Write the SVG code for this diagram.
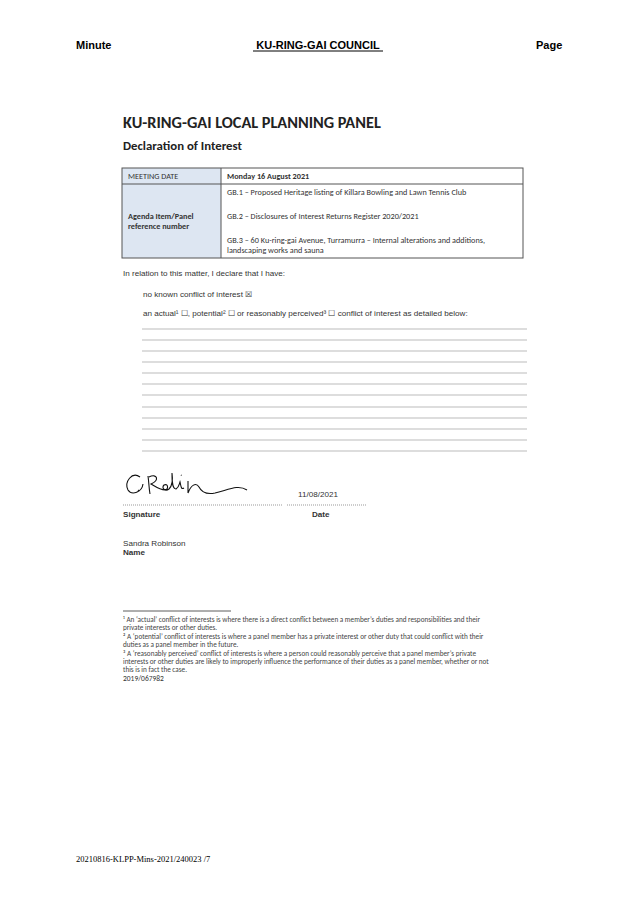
<svg xmlns="http://www.w3.org/2000/svg" width="638" height="900" viewBox="0 0 638 900">
<style>
.h{font-family:"Liberation Sans",Arial,sans-serif;font-weight:bold;font-size:11px;fill:#000}
.c{font-family:Carlito,"Open Sans","Liberation Sans",sans-serif;font-size:8.2px;fill:#333}
.a{font-family:"Liberation Sans",Arial,sans-serif;font-size:8.1px;fill:#333}
.ln{stroke:#bbb;stroke-width:1}
.f{font-family:Carlito,"Open Sans","Liberation Sans",sans-serif;font-size:7.2px;fill:#444}
</style>
<rect width="638" height="900" fill="#fff"/>
<g id="header">
<text class="h" x="76" y="49">Minute</text>
<text class="h" x="318" y="49" text-anchor="middle">KU-RING-GAI COUNCIL</text>
<line x1="253" y1="51" x2="383" y2="51" stroke="#000" stroke-width="1"/>
<text class="h" x="536" y="49">Page</text>
</g>
<g id="title">
<text x="123" y="128" font-family="Carlito,'Open Sans','Liberation Sans',sans-serif" font-weight="bold" font-size="16.3" fill="#222">KU-RING-GAI LOCAL PLANNING PANEL</text>
<text x="123" y="150" font-family="Carlito,'Open Sans','Liberation Sans',sans-serif" font-weight="bold" font-size="12.8" fill="#222">Declaration of Interest</text>
</g>
<g id="table">
<rect x="122" y="168" width="99" height="90" fill="#dde6f2"/>
<rect x="122" y="168" width="401" height="90" fill="none" stroke="#555" stroke-width="1"/>
<line x1="221" y1="168" x2="221" y2="258" stroke="#555"/>
<line x1="122" y1="184" x2="523" y2="184" stroke="#555"/>
<text class="c" x="128" y="179">MEETING DATE</text>
<text class="c" x="227" y="179" font-weight="bold" fill="#111">Monday 16 August 2021</text>
<text class="c" x="128" y="219" font-weight="bold">Agenda Item/Panel</text>
<text class="c" x="128" y="229" font-weight="bold">reference number</text>
<text class="c" x="227" y="195">GB.1 – Proposed Heritage listing of Killara Bowling and Lawn Tennis Club</text>
<text class="c" x="227" y="219">GB.2 – Disclosures of Interest Returns Register 2020/2021</text>
<text class="c" x="227" y="243">GB.3 – 60 Ku-ring-gai Avenue, Turramurra – Internal alterations and additions,</text>
<text class="c" x="227" y="253">landscaping works and sauna</text>
</g>
<g id="declaration">
<text class="a" x="123" y="276">In relation to this matter, I declare that I have:</text>
<text class="a" x="143" y="297">no known conflict of interest ☒</text>
<text class="a" x="143" y="316">an actual¹ ☐, potential² ☐ or reasonably perceived³ ☐ conflict of interest as detailed below:</text>
<g class="ln">
<line x1="142" y1="329" x2="527" y2="329"/><line x1="142" y1="340" x2="527" y2="340"/>
<line x1="142" y1="351" x2="527" y2="351"/><line x1="142" y1="362" x2="527" y2="362"/>
<line x1="142" y1="373" x2="527" y2="373"/><line x1="142" y1="384" x2="527" y2="384"/>
<line x1="142" y1="395" x2="527" y2="395"/><line x1="142" y1="407" x2="527" y2="407"/>
<line x1="142" y1="418" x2="527" y2="418"/><line x1="142" y1="429" x2="527" y2="429"/>
<line x1="142" y1="440" x2="527" y2="440"/><line x1="142" y1="451" x2="527" y2="451"/>
</g>
</g>
<g id="signature">
<path d="M140 477 C132 471 124 482 128 490 C132 496 142 492 143 484 M138 490 l0.6 0.6 M148 476 C149 483 149 489 150 494 M149 477 C157 473 160 480 151 484 C156 487 160 490 165 490 C169 489 168 483 164 485 C161 488 165 492 169 489 C172 486 173 480 172 473 C172 481 172 489 176 489 C179 487 179 485 180 482 C181 486 181 490 184 488 M181 475 l0.5 0.5 M188 481 C188 486 188 489 188 493 C191 485 196 482 199 487 C201 491 205 495 215 493 C228 490 238 484 247 490" fill="none" stroke="#111" stroke-width="1.1"/>
<line x1="123" y1="505" x2="283" y2="505" stroke="#999" stroke-dasharray="1 1"/>
<line x1="287" y1="505" x2="366" y2="505" stroke="#999" stroke-dasharray="1 1"/>
<text class="a" x="298" y="497">11/08/2021</text>
<text class="a" x="123" y="517" font-weight="bold" fill="#222">Signature</text>
<text class="a" x="312" y="517" font-weight="bold" fill="#222">Date</text>
<text class="a" x="123" y="546">Sandra Robinson</text>
<text class="a" x="123" y="555" font-weight="bold" fill="#222">Name</text>
</g>
<g id="footnotes">
<line x1="123" y1="611" x2="231" y2="611" stroke="#333" stroke-width="0.8"/>
<text class="f" x="123" y="622">¹ An ‘actual’ conflict of interests is where there is a direct conflict between a member’s duties and responsibilities and their</text>
<text class="f" x="123" y="630">private interests or other duties.</text>
<text class="f" x="123" y="639">² A ‘potential’ conflict of interests is where a panel member has a private interest or other duty that could conflict with their</text>
<text class="f" x="123" y="647">duties as a panel member in the future.</text>
<text class="f" x="123" y="656">³ A ‘reasonably perceived’ conflict of interests is where a person could reasonably perceive that a panel member’s private</text>
<text class="f" x="123" y="664">interests or other duties are likely to improperly influence the performance of their duties as a panel member, whether or not</text>
<text class="f" x="123" y="672">this is in fact the case.</text>
<text x="123" y="681" font-family="Carlito,'Open Sans','Liberation Sans',sans-serif" font-size="7.5" fill="#333">2019/067982</text>
</g>
<text x="76" y="862" font-family="'Liberation Serif','Times New Roman',serif" font-size="8.5" fill="#000">20210816-KLPP-Mins-2021/240023 /7</text>
</svg>
